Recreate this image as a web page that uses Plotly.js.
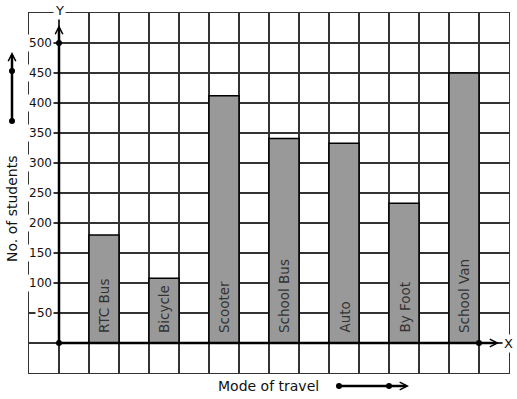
<!DOCTYPE html>
<html>
<head>
<meta charset="utf-8">
<script src="https://cdn.plot.ly/plotly-3.0.1.min.js"></script>
<style>html,body{margin:0;padding:0;background:#fff;}#chart{width:517px;height:399px;}</style>
</head>
<body>
<div id="chart"></div>
<script>
// ---- data ----
const categories = ['RTC Bus', 'Bicycle', 'Scooter', 'School Bus', 'Auto', 'By Foot', 'School Van'];
const students = [180, 108, 412, 341, 333, 233, 450];
const yTickValues = [50, 100, 150, 200, 250, 300, 350, 400, 450, 500];
const yTickLabels = ['50', '100', '150', '200', '250', '300', '350', '400', '450', '500'];
const xTitle = 'Mode of travel';
const yTitle = 'No. of students';

// ---- layout helpers ----
const W = 517, H = 399;
const M = {l: 29, r: 8, t: 13, b: 26};
const PW = W - M.l - M.r, PH = H - M.t - M.b;
const px = v => (v - M.l) / PW;          // pixel x -> paper
const py = v => (H - M.b - v) / PH;      // pixel y -> paper
const FONT = 'DejaVu Sans';
const positions = categories.map((c, i) => 1.5 + 2 * i);

const trace = {
  type: 'bar',
  x: positions,
  y: students,
  width: 1,
  marker: {color: '#999999', line: {color: '#000', width: 1.5}},
  hoverinfo: 'skip'
};

const annotations = [];
// y tick labels
yTickValues.forEach((v, i) => annotations.push({
  xref: 'x', yref: 'y', x: 0, y: v, xanchor: 'right', yanchor: 'middle', xshift: -5,
  text: yTickLabels[i], showarrow: false, bgcolor: '#fff', borderpad: 1,
  font: {family: FONT, size: 12, color: '#111'}
}));
// bar labels
categories.forEach((c, i) => annotations.push({
  xref: 'x', yref: 'y', x: positions[i], y: 0, xanchor: 'center', yanchor: 'bottom', yshift: 8,
  text: c, textangle: -90, showarrow: false,
  font: {family: FONT, size: 13.5, color: '#333'}
}));
// axis arrows
annotations.push({
  xref: 'x', yref: 'y', axref: 'x', ayref: 'y', x: 0, y: 530, ax: 0, ay: 0, text: '',
  showarrow: true, arrowhead: 5, arrowsize: 0.6, arrowwidth: 2.5, arrowcolor: '#000', standoff: 0
});
annotations.push({
  xref: 'x', yref: 'y', axref: 'x', ayref: 'y', x: 14.67, y: 0, ax: 0, ay: 0, text: '',
  showarrow: true, arrowhead: 5, arrowsize: 0.6, arrowwidth: 2.5, arrowcolor: '#000', standoff: 0
});
annotations.push({
  xref: 'x', yref: 'paper', x: 0, y: 1, yshift: 3, xanchor: 'center', yanchor: 'middle',
  text: 'Y', showarrow: false,
  bgcolor: '#fff', borderpad: 1, font: {family: FONT, size: 13, color: '#111'}
});
annotations.push({
  xref: 'x', yref: 'y', x: 14.97, y: 0, xanchor: 'center', yanchor: 'middle',
  text: 'X', showarrow: false,
  bgcolor: '#fff', borderpad: 1, font: {family: FONT, size: 13, color: '#111'}
});
// titles
annotations.push({
  xref: 'paper', yref: 'paper', x: px(268), y: py(386), xanchor: 'center', yanchor: 'middle',
  text: xTitle, showarrow: false,
  font: {family: FONT, size: 14, color: '#111'}
});
annotations.push({
  xref: 'paper', yref: 'paper', x: px(12), y: py(209), xanchor: 'center', yanchor: 'middle',
  text: yTitle, textangle: -90, showarrow: false,
  font: {family: FONT, size: 14, color: '#111'}
});
// direction arrows
annotations.push({
  xref: 'paper', yref: 'paper', x: px(12), y: py(52), ax: 0, ay: 69, text: '',
  showarrow: true, arrowhead: 5, arrowsize: 0.6, arrowwidth: 2.5, arrowcolor: '#000', standoff: 0
});
annotations.push({
  xref: 'paper', yref: 'paper', x: px(409), y: py(386), ax: -70, ay: 0, text: '',
  showarrow: true, arrowhead: 5, arrowsize: 0.6, arrowwidth: 2.5, arrowcolor: '#000', standoff: 0
});

const dot = (xref, yref, x, y) => ({
  type: 'circle', xref: xref, yref: yref, xsizemode: 'pixel', ysizemode: 'pixel',
  xanchor: x, yanchor: y, x0: -3, x1: 3, y0: -3, y1: 3,
  fillcolor: '#000', line: {width: 0}, layer: 'above'
});
const shapes = [
  dot('x', 'y', 0, 500), dot('x', 'y', 0, 0), dot('x', 'y', 14, 0),
  dot('paper', 'paper', px(12), py(71)), dot('paper', 'paper', px(12), py(121)),
  dot('paper', 'paper', px(339), py(386)), dot('paper', 'paper', px(389), py(386))
];

const layout = {
  width: W, height: H,
  margin: M,
  paper_bgcolor: '#fff', plot_bgcolor: '#fff',
  showlegend: false,
  xaxis: {
    range: [-1, 15], tick0: -1, dtick: 1, showgrid: true, gridcolor: '#333', gridwidth: 1.2,
    showticklabels: false, ticks: '', zeroline: false,
    showline: true, mirror: true, linecolor: '#333', linewidth: 1.2, fixedrange: true
  },
  yaxis: {
    range: [-50, 550], tick0: 0, dtick: 50, showgrid: true, gridcolor: '#333', gridwidth: 1.2,
    showticklabels: false, ticks: '', zeroline: false,
    showline: true, mirror: true, linecolor: '#333', linewidth: 1.2, fixedrange: true
  },
  annotations: annotations,
  shapes: shapes,
  font: {family: FONT}
};

Plotly.newPlot('chart', [trace], layout, {displayModeBar: false, staticPlot: true});
</script>
</body>
</html>
